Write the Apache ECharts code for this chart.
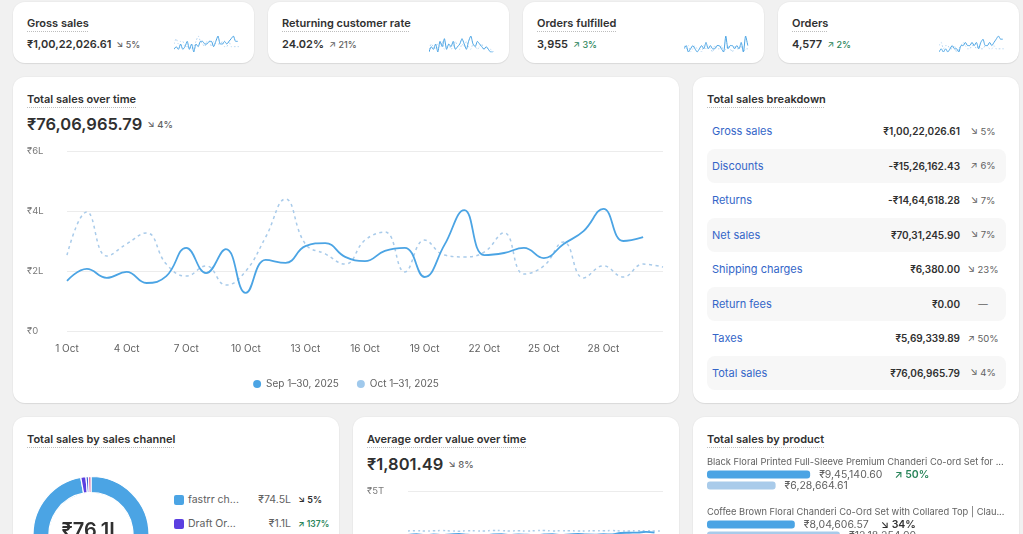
<!DOCTYPE html>
<html>
<head>
<meta charset="utf-8">
<script src="https://cdn.jsdelivr.net/npm/echarts@6/dist/echarts.min.js"></script>
<style>
  * { box-sizing: border-box; margin: 0; padding: 0; }
  html, body { width: 1023px; height: 534px; overflow: hidden; background: #f1f1f1; font-family: Inter, 'Noto Sans', sans-serif; color: #303030; }
  .card { position: absolute; background: #fff; border-radius: 12px; box-shadow: 0 1px 1px rgba(0,0,0,0.08), 0 0 0 1px rgba(0,0,0,0.02); overflow: hidden; }
  .title { position: absolute; left: 14px; font-size: 11px; font-weight: 600; line-height: 14px; white-space: nowrap; text-decoration: underline dotted #bdbdbd; text-underline-offset: 4px; text-decoration-thickness: 1px; }
  .kpi-value { position: absolute; left: 14px; font-size: 11px; font-weight: 600; line-height: 14px; white-space: nowrap; }
  .big-value { position: absolute; left: 14px; font-size: 16.5px; font-weight: 600; line-height: 22px; white-space: nowrap; }
  .pct { font-size: 9px; font-weight: 500; color: #616161; margin-left: 5px; }
  .big-value .pct { font-size: 9.5px; vertical-align: 2px; }
  .up { color: #29845a; }
  .chart { position: absolute; }
  .row { position: absolute; left: 14px; width: 299px; height: 34px; border-radius: 8px; font-size: 11px; display: flex; align-items: center; }
  .row.shade { background: #f7f7f7; }
  .row .lbl { padding-left: 5px; color: #3466c8; font-weight: 400; flex: 1; }
  .row .val { font-weight: 600; font-size: 10px; text-align: right; }
  .row .chg { width: 46px; text-align: center; font-size: 9.5px; color: #616161; }
  .lg { position: absolute; left: 161px; font-size: 10.5px; display: flex; align-items: center; white-space: nowrap; }
  .lg .sw { width: 10px; height: 10px; border-radius: 2px; margin-right: 4px; }
  .lg .nm { width: 57px; color: #616161; }
  .lg .amt { width: 46px; text-align: right; color: #616161; }
  .lg .pct { font-weight: 600; color: #303030; margin-left: 7px; }
  .lg .pct.up { color: #29845a; font-size: 8.5px; }
</style>
</head>
<body>
<div id="root"></div>
<script>
// ---- data ----
const kpiTitles = ['Gross sales', 'Returning customer rate', 'Orders fulfilled', 'Orders'];
const kpiValues = ['₹1,00,22,026.61', '24.02%', '3,955', '4,577'];
const kpiChanges = ['↘ 5%', '↗ 21%', '↗ 3%', '↗ 2%'];
const kpiUp = [false, false, true, true];

const sparkCurrent = [
  [3, 4, 3, 5, 3, 4, 6, 3, 5, 2, 5, 4, 6, 6, 5, 5, 6, 6, 4, 6, 8, 5, 5, 6, 5, 6, 7, 8, 6, 6],
  [3, 5, 4, 6, 3, 7, 5, 8, 4, 6, 5, 7, 4, 5, 6, 8, 6, 4, 7, 9, 6, 5, 7, 6, 5, 4, 5, 4, 3, 3],
  [5, 6, 4, 5, 6, 5, 4, 5, 6, 5, 7, 5, 6, 5, 5, 6, 6, 5, 4, 9, 5, 6, 6, 5, 6, 5, 7, 4, 9, 6],
  [3, 4, 3, 4, 3, 4, 5, 4, 4, 3, 5, 5, 6, 5, 5, 6, 5, 6, 4, 6, 7, 5, 5, 6, 5, 6, 7, 8, 7, 7]
];
const sparkPrevious = [
  [5, 7, 5, 6, 6, 4, 4, 4, 3, 4, 6, 8, 6, 5, 4, 6, 6, 4, 6, 5, 5, 5, 6, 4, 4, 6, 4, 4, 4, 4, 4],
  [4, 6, 5, 4, 6, 5, 7, 4, 5, 6, 4, 5, 7, 5, 4, 6, 5, 7, 5, 4, 6, 5, 4, 5, 6, 4, 5, 4, 4, 3, 4],
  [6, 5, 6, 4, 5, 6, 5, 5, 4, 6, 5, 6, 5, 4, 6, 5, 5, 6, 4, 5, 6, 5, 4, 6, 5, 5, 6, 4, 5, 5, 5],
  [5, 6, 4, 5, 5, 4, 4, 5, 3, 4, 5, 6, 5, 4, 4, 5, 5, 4, 5, 4, 4, 5, 5, 4, 4, 5, 4, 4, 4, 4, 4]
];

const days = ['1 Oct', '2 Oct', '3 Oct', '4 Oct', '5 Oct', '6 Oct', '7 Oct', '8 Oct', '9 Oct', '10 Oct',
  '11 Oct', '12 Oct', '13 Oct', '14 Oct', '15 Oct', '16 Oct', '17 Oct', '18 Oct', '19 Oct', '20 Oct',
  '21 Oct', '22 Oct', '23 Oct', '24 Oct', '25 Oct', '26 Oct', '27 Oct', '28 Oct', '29 Oct', '30 Oct', '31 Oct'];
const salesTicks = [0, 2, 4, 6]; // lakh
// total sales per day, in lakh
const salesSep = [1.67, 2.07, 1.77, 1.97, 1.6, 1.83, 2.77, 1.93, 2.73, 1.27, 2.37, 2.27, 2.83, 2.93, 2.47,
  2.33, 2.67, 2.77, 1.8, 2.87, 4.03, 2.53, 2.6, 2.77, 2.43, 2.9, 3.33, 4.07, 3.0, 3.13];
const salesOct = [2.53, 3.97, 2.5, 2.9, 3.27, 2.23, 1.83, 2.17, 1.53, 2.0, 3.13, 4.4, 2.9, 2.57, 2.23,
  3.03, 3.3, 1.97, 3.03, 2.53, 2.47, 2.63, 3.27, 1.9, 2.17, 2.97, 1.77, 2.17, 1.8, 2.23, 2.13];
const seriesNames = ['Sep 1–30, 2025', 'Oct 1–31, 2025'];

const breakdownLabels = ['Gross sales', 'Discounts', 'Returns', 'Net sales', 'Shipping charges', 'Return fees', 'Taxes', 'Total sales'];
const breakdownValues = ['₹1,00,22,026.61', '-₹15,26,162.43', '-₹14,64,618.28', '₹70,31,245.90', '₹6,380.00', '₹0.00', '₹5,69,339.89', '₹76,06,965.79'];
const breakdownChanges = ['↘ 5%', '↗ 6%', '↘ 7%', '↘ 7%', '↘ 23%', '—', '↗ 50%', '↘ 4%'];
const breakdownUp = [false, true, false, false, false, false, false, false];

const channelNames = ['fastrr checkout', 'Draft Orders', 'Online Store', 'Shop'];
const channelShort = ['fastrr ch...', 'Draft Or...'];
const channelValues = [74.5, 1.1, 0.3, 0.2]; // lakh
const channelLabels = ['₹74.5L', '₹1.1L'];
const channelChanges = ['↘ 5%', '↗ 137%'];
const channelColors = ['#4ba4e4', '#5b3fe0', '#3f63d6', '#d6569e'];

const aovTicks = [0, 5000];
const aovSep = [1580, 1620, 1550, 1600, 1570, 1610, 1640, 1590, 1560, 1530, 1600, 1620, 1580, 1610, 1590,
  1560, 1600, 1620, 1580, 1610, 1640, 1600, 1590, 1620, 1610, 1720, 1740, 1750, 1800, 1740];
const aovOct = [1880, 1900, 1870, 1890, 1910, 1880, 1860, 1900, 1890, 1870, 1920, 1900, 1880, 1890, 1870,
  1900, 1910, 1880, 1890, 1900, 1870, 1880, 1900, 1890, 1910, 1880, 1870, 1900, 1890, 1880, 1870];

const productNames = ['Black Floral Printed Full-Sleeve Premium Chanderi Co-ord Set for ...',
  'Coffee Brown Floral Chanderi Co-Ord Set with Collared Top | Clau...'];
const productCurrent = [945140.60, 804606.57];
const productPrevious = [628664.61, 1218254.00];
const productChanges = ['↗ 50%', '↘ 34%'];
const productUp = [true, false];

const BLUE = '#4ba4e4';
const LIGHT = '#a9cbea';

// ---- layout ----
const root = document.getElementById('root');
function card(x, y, w, h) {
  const el = document.createElement('div');
  el.className = 'card';
  Object.assign(el.style, { left: x + 'px', top: y + 'px', width: w + 'px', height: h + 'px' });
  root.appendChild(el);
  return el;
}
function add(parent, cls, html, box) {
  const el = document.createElement('div');
  el.className = cls;
  el.innerHTML = html;
  for (const k in box || {}) el.style[k] = box[k] + 'px';
  parent.appendChild(el);
  return el;
}
const pct = (txt, up) => `<span class="pct${up ? ' up' : ''}">${txt}</span>`;
function inr(v) {
  const [i, d] = v.toFixed(2).split('.');
  let last = i.slice(-3);
  const rest = i.slice(0, -3);
  if (rest) last = rest.replace(/\B(?=(\d{2})+(?!\d))/g, ',') + ',' + last;
  return '₹' + last + '.' + d;
}

// KPI cards
kpiTitles.forEach((t, i) => {
  const c = card(13 + i * 255, 2, 241, 61);
  add(c, 'title', t, { top: 14 });
  add(c, 'kpi-value', kpiValues[i] + pct(kpiChanges[i], kpiUp[i]), { top: 35 });
  const sp = add(c, 'chart', '', { left: 161, top: 33, width: 66, height: 18 });
  echarts.init(sp).setOption({
    animation: false,
    grid: { left: 0, right: 0, top: 1, bottom: 1 },
    xAxis: { type: 'category', show: false, boundaryGap: false, data: days },
    yAxis: { type: 'value', show: false, scale: true },
    series: [
      { type: 'line', data: sparkPrevious[i], symbol: 'none', smooth: 0.2,
        lineStyle: { color: '#b4d4f0', width: 1, type: [1.5, 2] } },
      { type: 'line', data: sparkCurrent[i], symbol: 'none', smooth: 0.2,
        lineStyle: { color: BLUE, width: 1 } }
    ]
  });
});

// Total sales over time
const main = card(13, 77, 666, 326);
add(main, 'title', 'Total sales over time', { top: 15 });
add(main, 'big-value', '₹76,06,965.79' + pct('↘ 4%'), { top: 36 });
const mainChart = add(main, 'chart', '', { left: 0, top: 0, width: 666, height: 326 });
echarts.init(mainChart).setOption({
  animation: false,
  grid: { left: 54, right: 16, top: 74, bottom: 72 },
  legend: {
    top: 297, left: 'center', icon: 'circle', itemWidth: 8, itemHeight: 8, itemGap: 18,
    textStyle: { color: '#616161', fontSize: 10, fontFamily: 'Inter' },
    data: seriesNames
  },
  xAxis: {
    type: 'category', boundaryGap: false, data: days,
    axisLine: { show: false }, axisTick: { show: false },
    axisLabel: { color: '#616161', fontSize: 10, fontFamily: 'Inter', margin: 13,
      interval: (i) => i % 3 === 0 && i < 30 }
  },
  yAxis: {
    type: 'value', min: salesTicks[0], max: salesTicks[salesTicks.length - 1], interval: 2,
    axisLabel: { color: '#7a7a7a', fontSize: 9.5, fontFamily: 'Inter', align: 'left', margin: 40,
      formatter: (v) => v === 0 ? '₹0' : '₹' + v + 'L' },
    splitLine: { lineStyle: { color: '#ececec', width: 1 } }
  },
  series: [
    { name: seriesNames[0], type: 'line', data: salesSep, smooth: 0.45, symbol: 'none', z: 3,
      itemStyle: { color: BLUE }, lineStyle: { color: BLUE, width: 1.8 } },
    { name: seriesNames[1], type: 'line', data: salesOct, smooth: 0.45, symbol: 'none', z: 2,
      itemStyle: { color: '#a0c9ec' }, lineStyle: { color: LIGHT, width: 1.5, type: [3, 3.5] } }
  ]
});

// Total sales breakdown
const bd = card(693, 77, 326, 326);
add(bd, 'title', 'Total sales breakdown', { top: 15 });
breakdownLabels.forEach((l, i) => {
  add(bd, 'row' + (i % 2 ? ' shade' : ''),
    `<span class="lbl">${l}</span><span class="val">${breakdownValues[i]}</span>` +
    `<span class="chg${breakdownUp[i] ? ' up' : ''}">${breakdownChanges[i]}</span>`,
    { top: 37 + i * 34.5 });
});

// Total sales by sales channel
const ch = card(13, 417, 326, 160);
add(ch, 'title', 'Total sales by sales channel', { top: 15 });
channelLabels.forEach((a, i) => {
  add(ch, 'lg', `<span class="sw" style="background:${channelColors[i]}"></span>` +
    `<span class="nm" title="${channelNames[i]}">${channelShort[i]}</span>` +
    `<span class="amt">${a}</span>` + pct(channelChanges[i], i === 1), { top: 76 + i * 24 });
});
const pieEl = add(ch, 'chart', '', { left: 0, top: 0, width: 160, height: 160 });
echarts.init(pieEl).setOption({
  animation: false,
  graphic: [{ type: 'text', x: 78, y: 114, style: { text: '₹76.1L', fontSize: 20, fontWeight: 600,
    fontFamily: 'Inter', fill: '#303030', align: 'center', verticalAlign: 'middle' } }],
  series: [{
    type: 'pie', radius: [42, 58], center: [78, 117.5], startAngle: 90, clockwise: true,
    label: { show: false }, labelLine: { show: false }, minAngle: 2.5,
    itemStyle: { borderColor: '#fff', borderWidth: 1.2 },
    data: channelNames.map((n, i) => ({ name: n, value: channelValues[i], itemStyle: { color: channelColors[i] } }))
  }]
});

// Average order value over time
const aov = card(353, 417, 326, 160);
add(aov, 'title', 'Average order value over time', { top: 15 });
add(aov, 'big-value', '₹1,801.49' + pct('↘ 8%'), { top: 36 });
const aovEl = add(aov, 'chart', '', { left: 0, top: 0, width: 326, height: 160 });
echarts.init(aovEl).setOption({
  animation: false,
  grid: { left: 55, right: 16, top: 74, bottom: 22 },
  xAxis: { type: 'category', boundaryGap: false, data: days, show: false },
  yAxis: {
    type: 'value', min: aovTicks[0], max: aovTicks[1], interval: 5000,
    axisLabel: { color: '#7a7a7a', fontSize: 9.5, fontFamily: 'Inter', align: 'left', margin: 41,
      formatter: (v) => v === 0 ? '₹0' : '₹' + v / 1000 + 'T' },
    splitLine: { lineStyle: { color: '#ececec' } }
  },
  series: [
    { type: 'line', data: aovOct, smooth: 0.45, symbol: 'none', lineStyle: { color: LIGHT, width: 1.5, type: [2, 3] } },
    { type: 'line', data: aovSep, smooth: 0.45, symbol: 'none', lineStyle: { color: BLUE, width: 1.8 } }
  ]
});

// Total sales by product
const pr = card(693, 417, 326, 160);
add(pr, 'title', 'Total sales by product', { top: 15 });
const prEl = add(pr, 'chart', '', { left: 0, top: 0, width: 326, height: 160 });
const prGridTop = [52, 102];
echarts.init(prEl).setOption({
  animation: false,
  title: productNames.map((n, i) => ({
    text: n, left: 14, top: prGridTop[i] - 11, padding: 0,
    textStyle: { fontSize: 9.3, fontWeight: 400, color: '#616161', fontFamily: 'Inter' }
  })),
  grid: prGridTop.map(t => ({ left: 14, width: 299, top: t, height: 22 })),
  xAxis: prGridTop.map((t, i) => ({ type: 'value', gridIndex: i, max: 2740000, show: false })),
  yAxis: prGridTop.map((t, i) => ({ type: 'category', gridIndex: i, inverse: true, show: false, data: ['current', 'previous'] })),
  series: productNames.map((n, i) => ({
    type: 'bar', xAxisIndex: i, yAxisIndex: i, barWidth: 8,
    itemStyle: { borderRadius: 3 },
    label: {
      show: true, position: 'right', distance: 9, color: '#616161', fontSize: 10.5, fontFamily: 'Inter',
      rich: {
        p: { fontSize: 10.5, fontWeight: 600, fontFamily: 'Inter', padding: [0, 0, 0, 12], color: productUp[i] ? '#29845a' : '#303030' }
      }
    },
    data: [
      { value: productCurrent[i], itemStyle: { color: BLUE },
        label: { formatter: () => inr(productCurrent[i]) + '{p|' + productChanges[i] + '}' } },
      { value: productPrevious[i], itemStyle: { color: LIGHT },
        label: { formatter: () => inr(productPrevious[i]) } }
    ]
  }))
});
</script>
</body>
</html>
